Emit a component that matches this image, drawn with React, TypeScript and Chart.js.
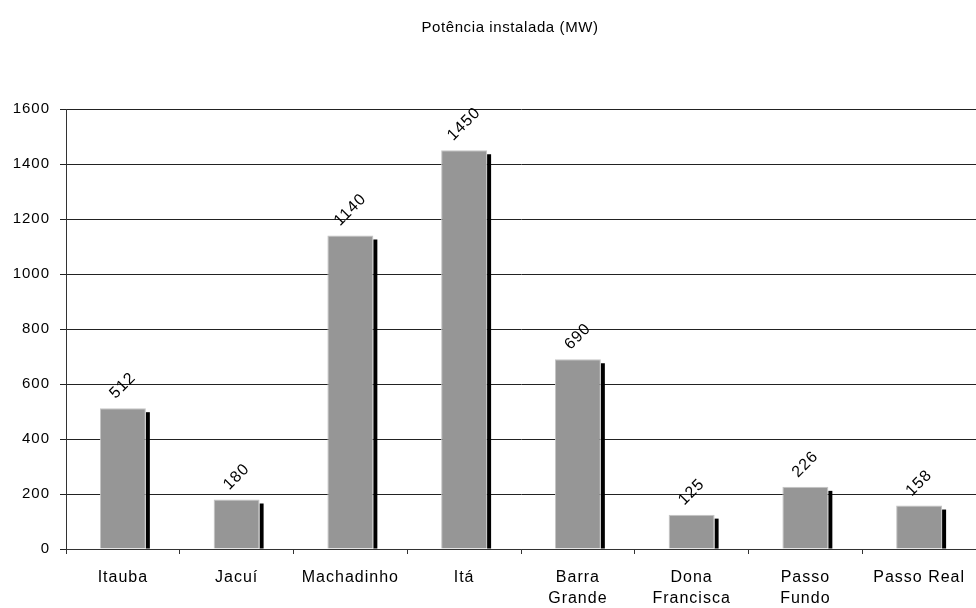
import React, { useEffect, useRef } from "react";
import { Chart, registerables } from "chart.js";

Chart.register(...registerables);

const TITLE = "Potência instalada (MW)";
const CATEGORIES: (string | string[])[] = [
  "Itauba",
  "Jacuí",
  "Machadinho",
  "Itá",
  ["Barra", "Grande"],
  ["Dona", "Francisca"],
  ["Passo", "Fundo"],
  "Passo Real",
];
const VALUES = [512, 180, 1140, 1450, 690, 125, 226, 158];
const Y_MIN = 0;
const Y_MAX = 1600;
const Y_STEP = 200;

const FONT = '"Liberation Sans", Arial, sans-serif';

const spacingPlugin = {
  id: "spacing",
  beforeDraw(chart: any) {
    chart.ctx.letterSpacing = "1px";
  },
};

const titlePlugin = {
  id: "customTitle",
  afterDraw(chart: any) {
    const ctx = chart.ctx;
    ctx.save();
    ctx.letterSpacing = "0.6px";
    ctx.font = `15px ${FONT}`;
    ctx.fillStyle = "#000000";
    ctx.textAlign = "center";
    ctx.textBaseline = "middle";
    ctx.fillText(TITLE, 510, 28);
    ctx.restore();
  },
};

const shadowPlugin = {
  id: "barShadow",
  beforeDatasetsDraw(chart: any) {
    const ctx = chart.ctx;
    const meta = chart.getDatasetMeta(0);
    ctx.save();
    ctx.fillStyle = "#000000";
    meta.data.forEach((el: any) => {
      const p = el.getProps(["x", "y", "base", "width"], true);
      const right = p.x + p.width / 2;
      ctx.fillRect(right, p.y + 4, 4, p.base - p.y - 4);
    });
    ctx.restore();
  },
};

const labelPlugin = {
  id: "rotLabels",
  afterDatasetsDraw(chart: any) {
    const ctx = chart.ctx;
    const meta = chart.getDatasetMeta(0);
    const data = chart.data.datasets[0].data;
    ctx.save();
    ctx.font = `16px ${FONT}`;
    ctx.fillStyle = "#000000";
    ctx.textAlign = "center";
    ctx.textBaseline = "middle";
    meta.data.forEach((el: any, i: number) => {
      const p = el.getProps(["x", "y"], true);
      const text = String(data[i]);
      const w = ctx.measureText(text).width;
      const cx = p.x;
      const cy = p.y - 12 - (w / 2) * 0.707;
      ctx.save();
      ctx.translate(cx, cy);
      ctx.rotate(-Math.PI / 4);
      ctx.fillText(text, 0, 0);
      ctx.restore();
    });
    ctx.restore();
  },
};

export default function App() {
  const ref = useRef<HTMLCanvasElement | null>(null);

  useEffect(() => {
    document.body.style.margin = "0";
    const canvas = ref.current;
    if (!canvas) return;
    const chart = new Chart(canvas, {
      type: "bar",
      data: {
        labels: CATEGORIES,
        datasets: [
          {
            data: VALUES,
            backgroundColor: "#969696",
            borderColor: "#c4c4c4",
            borderWidth: 1,
            barPercentage: 0.404,
            categoryPercentage: 1,
          },
        ],
      },
      options: {
        animation: false,
        responsive: false,
        devicePixelRatio: 1,
        layout: { padding: { top: 109, right: 0, bottom: 0, left: 0 } },
        plugins: {
          legend: { display: false },
          tooltip: { enabled: false },
          title: { display: false },
        },
        scales: {
          x: {
            offset: true,
            grid: {
              display: true,
              offset: true,
              drawOnChartArea: false,
              drawTicks: true,
              tickLength: 5,
              color: "#333333",
            },
            border: { display: true, color: "#333333", width: 1 },
            ticks: {
              color: "#000000",
              font: { family: FONT, size: 16, lineHeight: 1.3 },
              padding: 13,
              maxRotation: 0,
              minRotation: 0,
              autoSkip: false,
            },
            afterFit(scale: any) {
              scale.height = 59;
            },
          },
          y: {
            min: Y_MIN,
            max: Y_MAX,
            grid: {
              color: "#222222",
              drawTicks: true,
              tickLength: 6,
            },
            border: { display: true, color: "#333333", width: 1 },
            ticks: {
              stepSize: Y_STEP,
              color: "#000000",
              font: { family: FONT, size: 15 },
              padding: 10,
              callback: (v: any) => String(v),
            },
            afterFit(scale: any) {
              scale.width = 66;
            },
          },
        },
      },
      plugins: [spacingPlugin, shadowPlugin, labelPlugin, titlePlugin],
    });
    return () => chart.destroy();
  }, []);

  return (
    <div style={{ width: 976, height: 608, background: "#ffffff" }}>
      <canvas ref={ref} width={976} height={608} style={{ display: "block" }} />
    </div>
  );
}
